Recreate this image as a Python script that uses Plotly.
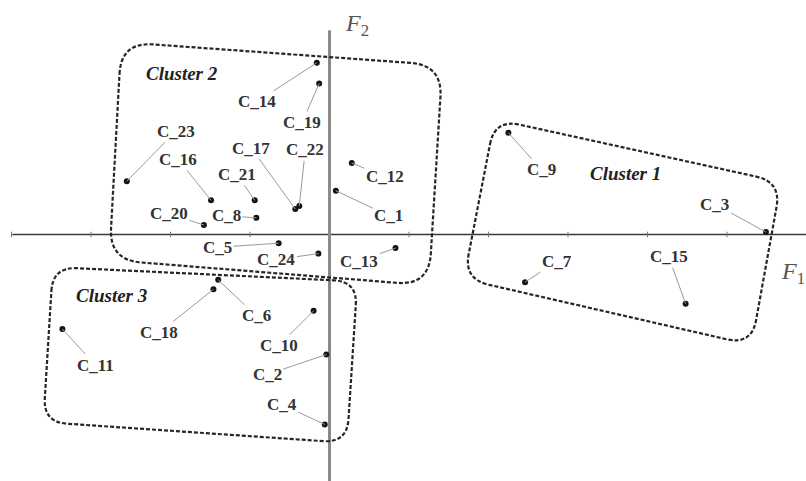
import plotly.graph_objects as go

# Case coordinates on the first two factorial axes (F1, F2)
cases = ["C_1", "C_2", "C_3", "C_4", "C_5", "C_6", "C_7", "C_8", "C_9", "C_10", "C_11", "C_12",
         "C_13", "C_14", "C_15", "C_16", "C_17", "C_18", "C_19", "C_20", "C_21", "C_22", "C_23", "C_24"]
f1 = [0.08, -0.04, 5.49, -0.06, -0.64, -1.40, 2.46, -0.92, 2.25, -0.20, -3.36, 0.28,
      0.83, -0.16, 4.48, -1.49, -0.43, -1.46, -0.13, -1.58, -0.94, -0.38, -2.55, -0.14]
f2 = [0.55, -1.51, 0.03, -2.39, -0.11, -0.57, -0.60, 0.21, 1.28, -0.96, -1.19, 0.90,
      -0.17, 2.16, -0.87, 0.43, 0.32, -0.69, 1.90, 0.12, 0.43, 0.36, 0.67, -0.24]

# where each label sits relative to its point (pixels, +y is down)
label_offsets = {
    "C_1": (53, 25), "C_2": (-59, 20), "C_3": (-51, -28), "C_4": (-43, -20),
    "C_5": (-61, 4), "C_6": (38, 36), "C_7": (32, -21), "C_8": (-30, -2),
    "C_9": (33, 37), "C_10": (-35, 35), "C_11": (33, 36), "C_12": (33, 14),
    "C_13": (-36, 13), "C_14": (-60, 39), "C_15": (-17, -47), "C_16": (-33, -41),
    "C_17": (-44, -61), "C_18": (-54, 43), "C_19": (-17, 39), "C_20": (-35, -11),
    "C_21": (-18, -26), "C_22": (6, -56), "C_23": (49, -50), "C_24": (-42, 6),
}

# cluster boxes: corners (TL, TR, BR, BL) in axis units, corner radius, label position
clusters = [
    ("Cluster 1", [(2.08, 1.45), (5.68, 0.66), (5.31, -1.39), (1.69, -0.56)], 0.32, (3.72, 0.77)),
    ("Cluster 2", [(-2.62, 2.42), (1.42, 2.13), (1.25, -0.64), (-2.77, -0.32)], 0.40, (-1.86, 2.03)),
    ("Cluster 3", [(-3.48, -0.41), (0.35, -0.59), (0.22, -2.62), (-3.60, -2.36)], 0.30, (-2.74, -0.77)),
]

tick_positions = [-4, -3, -2, -1, 1, 2, 3, 4, 5]

X_RANGE = [-4.145, 5.994]
Y_RANGE = [-3.101, 2.950]
H_AXIS_START = -3.99
V_AXIS_TOP = 2.57

SERIF = "Liberation Serif"


def rounded_path(corners, r):
    n = len(corners)
    parts = []
    for i in range(n):
        cx, cy = corners[i]
        px, py = corners[i - 1]
        nx, ny = corners[(i + 1) % n]
        d1 = ((px - cx) ** 2 + (py - cy) ** 2) ** 0.5
        d2 = ((nx - cx) ** 2 + (ny - cy) ** 2) ** 0.5
        a = (cx + r * (px - cx) / d1, cy + r * (py - cy) / d1)
        b = (cx + r * (nx - cx) / d2, cy + r * (ny - cy) / d2)
        parts.append(("M" if i == 0 else "L") + f" {a[0]:.4f},{a[1]:.4f}")
        parts.append(f"Q {cx:.4f},{cy:.4f} {b[0]:.4f},{b[1]:.4f}")
    return " ".join(parts) + " Z"


fig = go.Figure()

# tick marks on the F1 axis
fig.add_trace(go.Scatter(x=tick_positions, y=[0] * len(tick_positions), mode="markers",
                         marker=dict(symbol="line-ns", size=4, line=dict(width=1, color="#777")),
                         hoverinfo="skip", showlegend=False))

# case points
fig.add_trace(go.Scatter(x=f1, y=f2, mode="markers",
                         marker=dict(size=6, color="#151515"),
                         text=cases, hoverinfo="text", showlegend=False))

shapes = [
    dict(type="line", xref="x", yref="y", x0=H_AXIS_START, x1=X_RANGE[1], y0=0, y1=0,
         line=dict(color="#3a3a3a", width=1.5), layer="below"),
    dict(type="line", xref="x", yref="y", x0=0, x1=0, y0=Y_RANGE[0], y1=V_AXIS_TOP,
         line=dict(color="#8a8a8a", width=3), layer="below"),
]
for name, corners, r, _ in clusters:
    shapes.append(dict(type="path", xref="x", yref="y", path=rounded_path(corners, r),
                       line=dict(color="#262626", width=2.2, dash="4px,2px"), layer="above"))

annotations = []
for c, x, y in zip(cases, f1, f2):
    ax, ay = label_offsets[c]
    annotations.append(dict(x=x, y=y, xref="x", yref="y", text=c, showarrow=True,
                            ax=ax, ay=ay, arrowhead=0, arrowwidth=1, arrowcolor="#9a9a9a",
                            font=dict(family=SERIF, size=17, color="#333", weight="bold")))
for name, _, _, (lx, ly) in clusters:
    annotations.append(dict(x=lx, y=ly, xref="x", yref="y", text=f"<i>{name}</i>", showarrow=False,
                            font=dict(family=SERIF, size=19, color="#222", weight="bold")))

# axis names
annotations.append(dict(x=0.35, y=2.64, xref="x", yref="y", text="<i>F</i><sub>2</sub>", showarrow=False,
                        font=dict(family=SERIF, size=24, color="#555")))
annotations.append(dict(x=5.83, y=-0.48, xref="x", yref="y", text="<i>F</i><sub>1</sub>", showarrow=False,
                        font=dict(family=SERIF, size=24, color="#555")))

fig.update_layout(
    width=806, height=481,
    margin=dict(l=0, r=0, t=0, b=0, pad=0),
    paper_bgcolor="white", plot_bgcolor="white",
    xaxis=dict(range=X_RANGE, visible=False, showgrid=False, zeroline=False),
    yaxis=dict(range=Y_RANGE, visible=False, showgrid=False, zeroline=False),
    shapes=shapes, annotations=annotations,
)

# the page's default body margin would push the figure 8px off the window corner
fig.write_html("out.html", config={"displayModeBar": False},
               post_script="document.body.style.margin='0';")
